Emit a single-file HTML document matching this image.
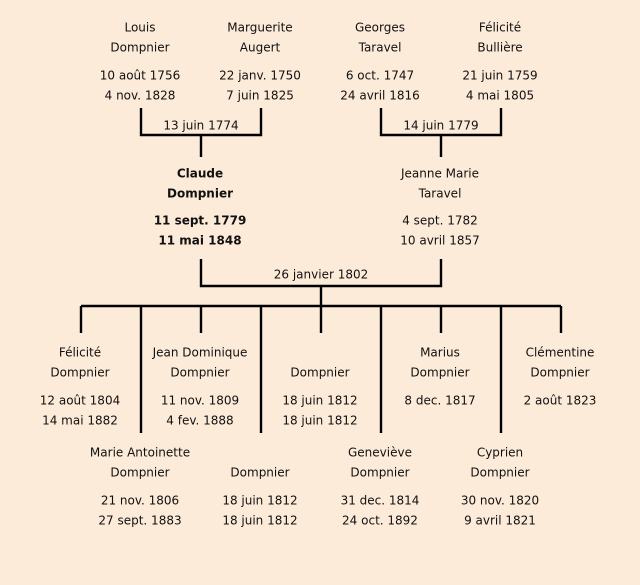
<!DOCTYPE html>
<html><head><meta charset="utf-8"><style>
html,body{margin:0;padding:0;background:#fdebd9;}
svg{display:block;}
text{font-family:"DejaVu Sans","Liberation Sans",sans-serif;font-size:12px;fill:#111;text-anchor:middle;dominant-baseline:middle;}
.b{font-weight:bold;}
</style></head><body>
<svg width="640" height="585" viewBox="0 0 640 585">
<rect width="640" height="585" fill="#fdebd9"/>
<g stroke="#000" stroke-width="2.4" fill="none">
<path d="M141 108V135H261V108M201 135V157"/>
<path d="M381 108V135H501V108M441 135V157"/>
<path d="M201 259V286H441V259M321 286V306"/>
<path d="M81 306H561"/>
<path d="M81 306V333M201 306V333M321 306V333M441 306V333M561 306V333"/>
<path d="M141 306V433M261 306V433M381 306V433M501 306V433"/>
</g>
<g transform="translate(0,1)">
<text x="140" y="27">Louis</text><text x="140" y="47">Dompnier</text>
<text x="140" y="75">10 août 1756</text><text x="140" y="95">4 nov. 1828</text>
<text x="260" y="27">Marguerite</text><text x="260" y="47">Augert</text>
<text x="260" y="75">22 janv. 1750</text><text x="260" y="95">7 juin 1825</text>
<text x="380" y="27">Georges</text><text x="380" y="47">Taravel</text>
<text x="380" y="75">6 oct. 1747</text><text x="380" y="95">24 avril 1816</text>
<text x="500" y="27">Félicité</text><text x="500" y="47">Bullière</text>
<text x="500" y="75">21 juin 1759</text><text x="500" y="95">4 mai 1805</text>
<text x="201" y="125">13 juin 1774</text>
<text x="441" y="125">14 juin 1779</text>
<text class="b" x="200" y="173">Claude</text><text class="b" x="200" y="193">Dompnier</text>
<text class="b" x="200" y="220">11 sept. 1779</text><text class="b" x="200" y="240">11 mai 1848</text>
<text x="440" y="173">Jeanne Marie</text><text x="440" y="193">Taravel</text>
<text x="440" y="220">4 sept. 1782</text><text x="440" y="240">10 avril 1857</text>
<text x="321" y="274">26 janvier 1802</text>
<text x="80" y="352">Félicité</text><text x="80" y="372">Dompnier</text>
<text x="80" y="400">12 août 1804</text><text x="80" y="420">14 mai 1882</text>
<text x="200" y="352">Jean Dominique</text><text x="200" y="372">Dompnier</text>
<text x="200" y="400">11 nov. 1809</text><text x="200" y="420">4 fev. 1888</text>
<text x="320" y="372">Dompnier</text>
<text x="320" y="400">18 juin 1812</text><text x="320" y="420">18 juin 1812</text>
<text x="440" y="352">Marius</text><text x="440" y="372">Dompnier</text>
<text x="440" y="400">8 dec. 1817</text>
<text x="560" y="352">Clémentine</text><text x="560" y="372">Dompnier</text>
<text x="560" y="400">2 août 1823</text>
<text x="140" y="452">Marie Antoinette</text><text x="140" y="472">Dompnier</text>
<text x="140" y="500">21 nov. 1806</text><text x="140" y="520">27 sept. 1883</text>
<text x="260" y="472">Dompnier</text>
<text x="260" y="500">18 juin 1812</text><text x="260" y="520">18 juin 1812</text>
<text x="380" y="452">Geneviève</text><text x="380" y="472">Dompnier</text>
<text x="380" y="500">31 dec. 1814</text><text x="380" y="520">24 oct. 1892</text>
<text x="500" y="452">Cyprien</text><text x="500" y="472">Dompnier</text>
<text x="500" y="500">30 nov. 1820</text><text x="500" y="520">9 avril 1821</text>
</g>
</svg>
</body></html>
